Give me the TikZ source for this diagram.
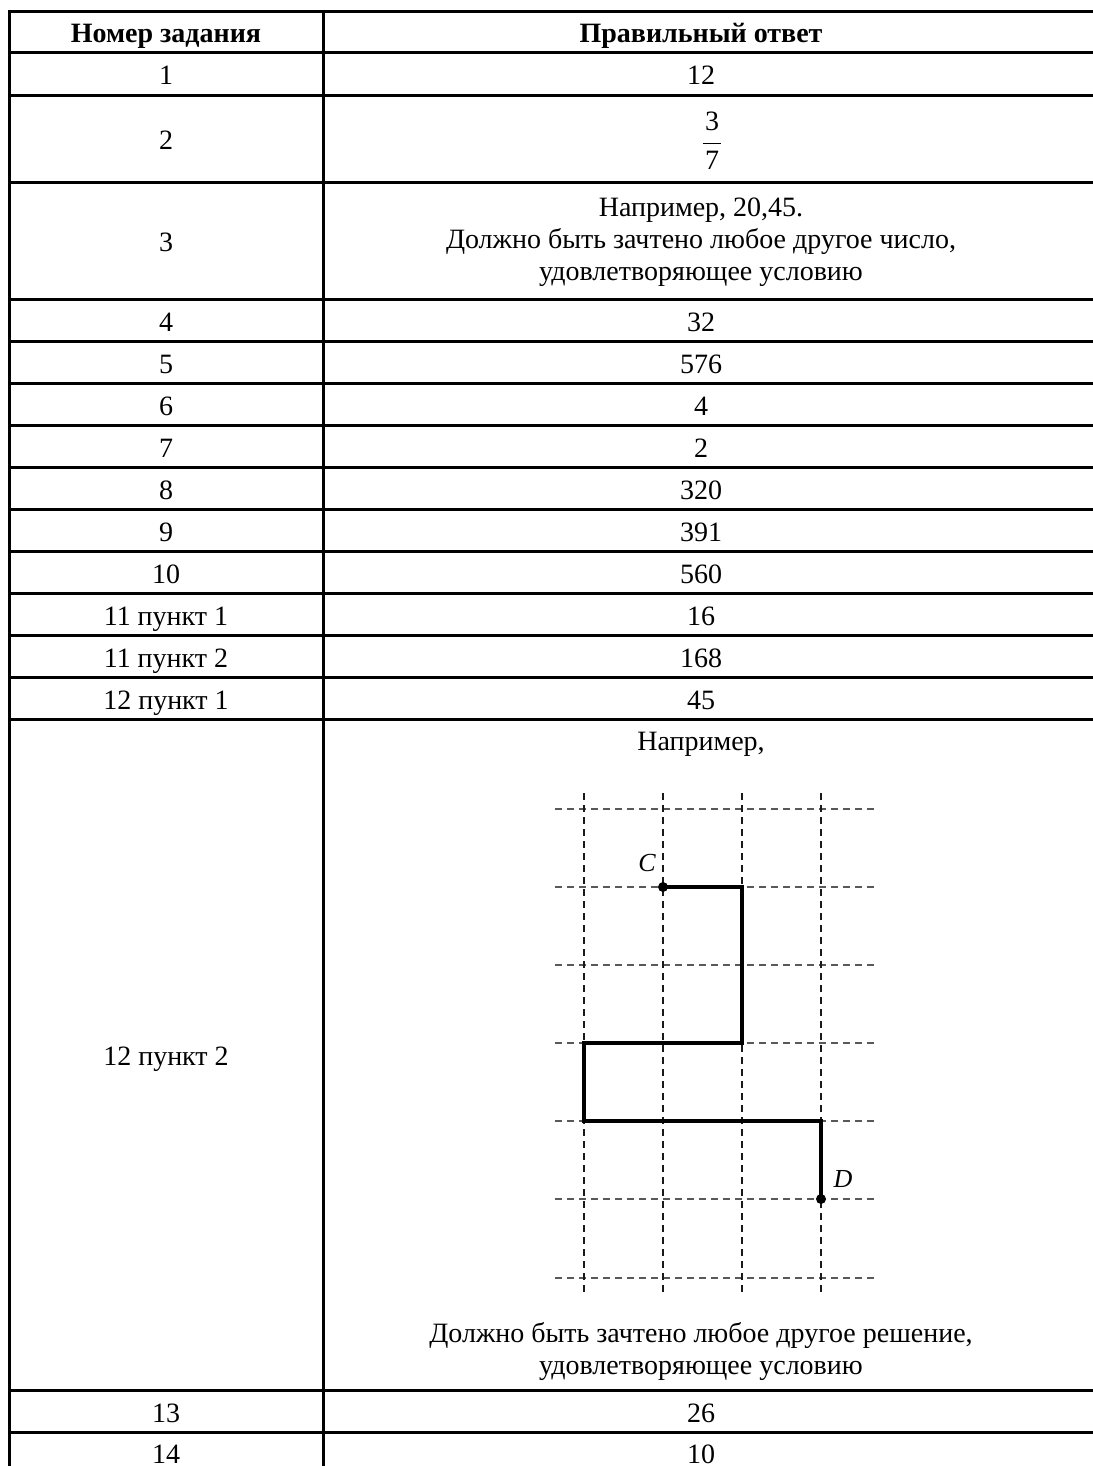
\documentclass[tikz,border=0pt]{standalone}
\usepackage{fontspec}
\setmainfont{Liberation Serif}
\begin{document}
\begin{tikzpicture}[
    x=0.5pt, y=-0.5pt,
    rule/.style={line width=1.5pt, line cap=rect},
    cell/.style={anchor=base, inner sep=0pt, font=\fontsize{14}{16}\selectfont},
    head/.style={cell, font=\fontsize{14}{16}\selectfont\bfseries},
    block/.style={cell, anchor=center, align=center},
    hline/.style={line width=0.6pt, black!65, dash pattern=on 3.5pt off 2.5pt},
    vline/.style={line width=0.6pt, black!90, dash pattern=on 3.5pt off 2.5pt},
    route/.style={line width=1.6pt, line join=miter},
    dot/.style={circle, fill, inner sep=0pt, minimum size=5pt},
    letter/.style={anchor=base, inner sep=0pt, font=\fontsize{13}{15}\selectfont\itshape}
]
\useasboundingbox (0,0) rectangle (1092,1466);

% Table rules
\draw[rule] (9,12) -- (9,1466) (323,12) -- (323,1466);
\draw[rule] (9,12) -- (1092,12) (9,53) -- (1092,53) (9,96) -- (1092,96)
    (9,183) -- (1092,183) (9,299) -- (1092,299) (9,341) -- (1092,341)
    (9,383) -- (1092,383) (9,425) -- (1092,425) (9,467) -- (1092,467)
    (9,509) -- (1092,509) (9,551) -- (1092,551) (9,593) -- (1092,593)
    (9,635) -- (1092,635) (9,677) -- (1092,677) (9,719) -- (1092,719)
    (9,1390) -- (1092,1390) (9,1432) -- (1092,1432);

% Header
\node[head] (hnum) at (166,43) {Номер задания};
\node[head] (hans) at (701,43) {Правильный ответ};

% Task numbers
\node[cell] (n1) at (166,85) {1};
\node[cell] (n2) at (166,150) {2};
\node[cell] (n3) at (166,252) {3};
\node[cell] (n4) at (166,331) {4};
\node[cell] (n5) at (166,373) {5};
\node[cell] (n6) at (166,415) {6};
\node[cell] (n7) at (166,457) {7};
\node[cell] (n8) at (166,499) {8};
\node[cell] (n9) at (166,541) {9};
\node[cell] (n10) at (166,583) {10};
\node[cell] (n11a) at (166,625) {11 пункт 1};
\node[cell] (n11b) at (166,667) {11 пункт 2};
\node[cell] (n12a) at (166,709) {12 пункт 1};
\node[cell] (n12b) at (166,1065) {12 пункт 2};
\node[cell] (n13) at (166,1422) {13};
\node[cell] (n14) at (166,1463) {14};

% Answers
\node[cell] (a1) at (701,85) {12};
\node[block] (a2) at (712,141) {$\displaystyle\frac{\mbox{\hspace{1.2pt}3\hspace{1.2pt}}}{\mbox{7}}$};
\node[block] (a3) at (701,242) {Например, 20,45.\\Должно быть зачтено любое другое число,\\удовлетворяющее условию};
\node[cell] (a4) at (701,331) {32};
\node[cell] (a5) at (701,373) {576};
\node[cell] (a6) at (701,415) {4};
\node[cell] (a7) at (701,457) {2};
\node[cell] (a8) at (701,499) {320};
\node[cell] (a9) at (701,541) {391};
\node[cell] (a10) at (701,583) {560};
\node[cell] (a11a) at (701,625) {16};
\node[cell] (a11b) at (701,667) {168};
\node[cell] (a12a) at (701,709) {45};
\node[cell] (a13) at (701,1422) {26};
\node[cell] (a14) at (701,1463) {10};

% Answer 12, part 2
\node[cell] (ex) at (701,750) {Например,};
\node[block] (any) at (701,1351) {Должно быть зачтено любое другое решение,\\удовлетворяющее условию};

% Squared paper
\draw[hline] (555,809) -- (875,809) (555,887) -- (875,887) (555,965) -- (875,965)
    (555,1043) -- (875,1043) (555,1121) -- (875,1121) (555,1199) -- (875,1199)
    (555,1278) -- (875,1278);
\draw[vline] (584,793) -- (584,1292) (663,793) -- (663,1292)
    (742,793) -- (742,1292) (821,793) -- (821,1292);

% Route from C to D
\node[dot] (C) at (663,887) {};
\node[dot] (D) at (821,1199) {};
\node[letter] (lC) at (647,871) {C};
\node[letter] (lD) at (843,1187) {D};
\draw[route] (C.center) -| (742,1043) -| (584,1121) -| (D.center);
\end{tikzpicture}
\end{document}
